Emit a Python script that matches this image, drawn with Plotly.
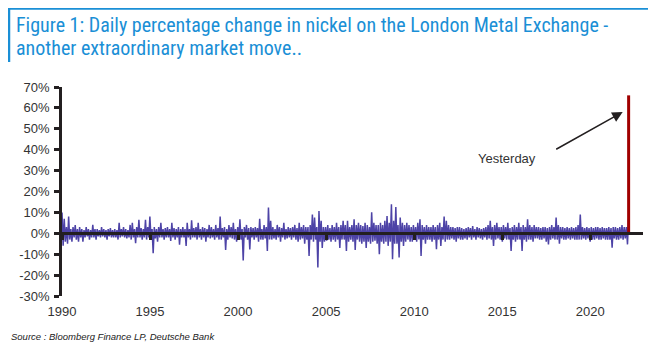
import pandas as pd
import plotly.graph_objects as go

# ---- data (daily % change; one row per year) ----
pct_change = [
    10, -6, 7, -4, 3, -5, 8, -3, 2, -4, 3, -2, 4, -3, 2, -4,            # 1990
    3, -2, 2, -4, 1.5, -2, 3, -1.5, 2, -3, 1.5, -2, 4, -2, 2, -3,       # 1991
    2, -1.5, 1.5, -2, 3, -1.5, 2, -2, 1.5, -3, 2, -1.5, 2.5, -2, 1.5, -2,  # 1992
    2, -2, 1.5, -3, 5, -2, 2, -1.5, 3, -2, 2, -2.5, 1.5, -2, 4, -3,     # 1993
    5, -2, 2, -4.7, 3, -2, 6.5, -2, 2.5, -3, 2, -2, 6.5, -3, 3, -2,     # 1994
    8, -2, 2, -9.5, 3, -2.5, 2, -4, 3, -2, 5, -2, 2, -3, 2.5, -2,       # 1995
    3, -2, 2, -3.7, 5, -2, 2.5, -3, 2, -2, 3, -5.5, 2, -2, 3, -2,       # 1996
    2, -6, 5, -2, 2, -3, 6.2, -2, 2.5, -2, 3, -3, 5, -2, 2, -3,         # 1997
    3, -2, 2.5, -4, 2, -2, 4, -2.5, 3, -2, 2, -3, 4, -2, 2.5, -3,       # 1998
    8, -3, 2.5, -2, 3, -8, 2, -3, 4, -2, 3, -2.5, 5, -3, 2, -4,         # 1999
    3, -2.5, 6.7, -3, 2, -13, 3, -2, 4, -3, 2.5, -7.7, 3, -2, 2.5, -3,  # 2000
    3, -2, 2.5, -4, 7, -3, 2, -3, 4, -2.5, 3, -8.5, 12.3, -3, 6, -3,    # 2001
    3, -2.5, 2, -3, 4, -2, 3, -4, 2.5, -2, 5, -3, 2, -2.5, 3, -2,       # 2002
    2.5, -3, 3, -2, 4, -3, 2.5, -4, 5, -3, 3, -2.5, 4, -5, 3, -3,       # 2003
    3, -10.8, 4, -3, 9, -4, 7.5, -3, 3, -16.4, 10.7, -4, 6, -7, 3, -4,  # 2004
    3, -3.5, 4, -3, 2.5, -4, 4, -3, 3, -4, 5, -3, 3, -7, 4, -3,         # 2005
    6, -3, 4, -8.5, 6, -4, 3, -3, 4, -4, 6.7, -8, 4, -3, 5, -4,         # 2006
    4, -5, 3.5, -4, 5, -7, 4, -4, 3, -5, 10, -4, 5, -3.5, 4, -5,        # 2007
    4, -10, 5, -4, 4, -5, 6, -4, 8.3, -6, 5, -4, 13.9, -12.4, 6, -5,    # 2008
    12.6, -5, 4, -11.6, 7.5, -4, 5, -6, 4, -4, 5, -3, 4, -4, 3, -4,     # 2009
    4, -3, 3, -4, 5, -3, 6.7, -10.8, 4, -3, 3, -5, 4, -3, 3, -3,        # 2010
    3, -4, 4, -3, 3, -7.6, 4, -3, 5, -6, 3, -3, 8, -4, 6, -3,           # 2011
    4, -3, 3, -2.5, 3, -3, 2.5, -4, 3, -2.5, 3, -3, 2.5, -3, 2, -2.5,   # 2012
    2.5, -3, 3, -2, 2.5, -3, 3.5, -2, 2, -3, 3, -2, 2.5, -2.5, 2, -3,   # 2013
    2.5, -2, 3, -3, 4, -2.5, 6, -3, 3, -6, 4, -3, 5, -2.5, 3, -3,       # 2014
    3, -4, 4, -2.5, 3, -3, 5, -3, 2.5, -8.4, 3, -3, 4, -4, 3, -3,       # 2015
    5, -3, 3, -8.4, 4, -3, 3, -4, 6.7, -3, 4, -3, 3, -4, 4, -2.5,       # 2016
    3, -2.5, 3, -3, 2.5, -3, 3, -2.5, 3, -4, 2.5, -5.3, 3, -3, 4, -2.5, # 2017
    3, -3, 7.5, -3, 4, -5, 3, -2.5, 3, -3, 2.5, -3, 3, -2.5, 2.5, -3,   # 2018
    3, -2.5, 2.5, -3, 3, -3, 4, -3, 9, -3, 3, -2.5, 2.5, -3, 3, -2.5,   # 2019
    2.5, -4, 3, -3, 2.5, -3, 3, -2.5, 3, -3, 2.5, -3, 3, -2.5, 2.5, -3, # 2020
    2.5, -3, 3, -3, 2.5, -6.9, 3, -2.5, 3, -3, 2.5, -3, 3, -2.5, 4, -3, # 2021
    3, -2.5, 3, -5.3, 7,                                                # 2022 (to 7 Mar)
]
series_start = "1990-01-02"
series_end = "2022-03-07"

spike_date = "2022-03-08"
spike_value = 66

year_ticks = [1990, 1995, 2000, 2005, 2010, 2015, 2020]
y_ticks = [70, 60, 50, 40, 30, 20, 10, 0, -10, -20, -30]

title_lines = [
    "Figure 1: Daily percentage change in nickel on the London Metal Exchange -",
    "another extraordinary market move..",
]
source_text = "Source : Bloomberg Finance LP, Deutsche Bank"

dates = pd.date_range(series_start, series_end, periods=len(pct_change))

# ---- layout geometry (page body adds an 8px offset) ----
OFF = 8
WIDTH, HEIGHT = 656 - OFF, 360 - OFF
L, R, T, B = 54, 13, 79, 64
PW, PH = WIDTH - L - R, HEIGHT - T - B


def px(xw):
    """window pixel x -> paper x"""
    return (xw - OFF - L) / PW


def py(yw):
    """window pixel y -> paper y"""
    return (HEIGHT - B - (yw - OFF)) / PH


X_RANGE = ["1990-01-01", "2022-12-31"]
BLUE = "#1a8fd6"
AXIS = "#231f20"

fig = go.Figure()
fig.add_trace(go.Scatter(
    x=dates, y=pct_change, mode="lines",
    line=dict(color="rgba(46,34,150,0.85)", width=1.5),
    hoverinfo="skip", showlegend=False, xaxis="x2",
))
fig.add_trace(go.Scatter(
    x=[spike_date, spike_date], y=[0, spike_value], mode="lines",
    line=dict(color="#a00000", width=3),
    hoverinfo="skip", showlegend=False, xaxis="x2",
))

tickvals = [f"{y}-01-01" for y in year_ticks]
ticktext = [str(y) for y in year_ticks]

title_font = dict(family="Liberation Sans Narrow, Roboto Condensed, Roboto, sans-serif",
                  size=20, color=BLUE)

fig.update_layout(
    width=WIDTH, height=HEIGHT,
    margin=dict(l=L, r=R, t=T, b=B),
    paper_bgcolor="white", plot_bgcolor="white",
    font=dict(family="Liberation Sans, Arial, sans-serif", size=13, color="#333333"),
    xaxis=dict(
        type="date", range=X_RANGE, tickvals=tickvals, ticktext=ticktext,
        showgrid=False, zeroline=False, showline=False, ticks="",
        ticklabelstandoff=6, tickfont=dict(size=13, color="#333333"),
    ),
    xaxis2=dict(
        type="date", range=X_RANGE, overlaying="x", anchor="free",
        position=(0 - y_ticks[-1]) / (y_ticks[0] - y_ticks[-1]),
        tickvals=tickvals, showticklabels=False,
        showgrid=False, zeroline=False, showline=True,
        linecolor=AXIS, linewidth=2.5, ticks="outside", ticklen=5,
        tickwidth=2.5, tickcolor=AXIS, layer="above traces",
    ),
    yaxis=dict(
        range=[y_ticks[-1], y_ticks[0]], tickvals=y_ticks,
        ticktext=[f"{v}%" for v in y_ticks],
        showgrid=False, zeroline=False, showline=True,
        linecolor=AXIS, linewidth=2.5, ticks="outside", ticklen=5,
        tickwidth=2.5, tickcolor=AXIS, tickfont=dict(size=13, color="#333333"),
        ticklabelstandoff=2,
    ),
    shapes=[
        dict(type="line", xref="paper", yref="paper", x0=px(7), x1=px(660), y0=py(8.5), y1=py(8.5),
             line=dict(color=BLUE, width=2.5)),
        dict(type="line", xref="paper", yref="paper", x0=px(9), x1=px(9), y0=py(7), y1=py(62),
             line=dict(color=BLUE, width=2.5)),
        dict(type="line", xref="paper", yref="paper", x0=px(651.5), x1=px(651.5), y0=py(335), y1=py(352),
             line=dict(color=BLUE, width=2)),
    ],
    annotations=[
        dict(text=title_lines[0], xref="paper", yref="paper", x=px(14), y=py(25),
             xanchor="left", yanchor="middle", showarrow=False, font=title_font),
        dict(text=title_lines[1], xref="paper", yref="paper", x=px(14), y=py(48),
             xanchor="left", yanchor="middle", showarrow=False, font=title_font),
        dict(text="Yesterday", xref="x", yref="y", x="2015-04-05", y=35.6,
             showarrow=False, font=dict(size=13, color="#333333")),
        dict(text="", xref="x", yref="y", x="2021-11-05", y=58,
             showarrow=True, arrowhead=2, arrowsize=1.4, arrowwidth=1.5,
             arrowcolor="#231f20", ax=-68, ay=38),
        dict(text=source_text,
             xref="paper", yref="paper", x=px(9), y=py(336),
             xanchor="left", yanchor="middle", showarrow=False,
             font=dict(size=9.5, color="#222222",
                       family="Liberation Sans, Arial, sans-serif", style="italic")),
    ],
)

fig.write_html("out.html")
